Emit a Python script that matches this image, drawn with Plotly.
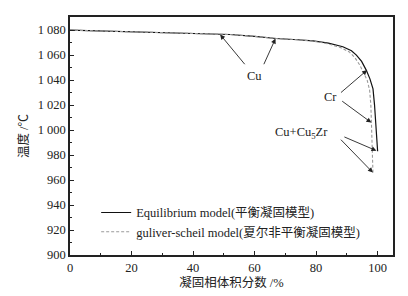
import plotly.graph_objects as go

# Equilibrium model curve (solid black)
eq_x = [0, 20, 40, 52, 60, 67, 74, 79, 84, 88.7, 91.5, 93.1, 94.8, 96.3, 97.5, 98.5, 99.0, 99.4, 99.8, 100]
eq_y = [1080, 1078.5, 1077.2, 1076.5, 1075, 1073.3, 1072.3, 1071.4, 1069.6, 1066.7, 1063.5, 1060, 1055, 1048, 1041, 1033, 1020, 1005, 992, 983]

# Gulliver-Scheil model curve (gray dashed)
gs_x = [0, 20, 40, 52, 60, 67, 74, 79, 84, 88, 90.8, 92.6, 94.2, 95.5, 96.6, 97.4, 97.8, 98.0, 98.3, 98.5]
gs_y = [1080, 1078.5, 1077.2, 1076.5, 1075, 1073.3, 1072.3, 1071.2, 1069, 1066, 1062.5, 1058, 1052, 1046, 1040, 1032, 1020, 1005, 985, 965]

x_ticks = [0, 20, 40, 60, 80, 100]
x_ticklabels = ["0", "20", "40", "60", "80", "100"]
y_ticks = [900, 920, 940, 960, 980, 1000, 1020, 1040, 1060, 1080]
y_ticklabels = ["900", "920", "940", "960", "980", "1 000", "1 020", "1 040", "1 060", "1 080"]

legend_names = ["Equilibrium model(平衡凝固模型)", "guliver-scheil model(夏尔非平衡凝固模型)"]

# annotations: label, label position (x, T), arrow targets and tails
labels = ["Cu", "Cr", "Cu+Cu<sub>5</sub>Zr"]
label_pos = [(60.1, 1043.5), (84.6, 1026.6), (75.2, 997.4)]
arrow_targets = [
    [(48.8, 1076.5), (66.8, 1073.2)],
    [(96.6, 1048.0), (97.95, 1006.0)],
    [(99.6, 983.5), (98.45, 966.0)],
]
arrow_tails = [
    [(57.2, 1051.5), (62.8, 1051.5)],
    [(87.6, 1029.0), (88.0, 1024.0)],
    [(88.7, 995.0), (87.6, 993.5)],
]

font_family = "Liberation Serif, Noto Sans CJK SC, serif"

fig = go.Figure()
fig.add_trace(go.Scatter(x=eq_x, y=eq_y, mode="lines", name=legend_names[0],
                         line=dict(color="#111", width=1.2)))
fig.add_trace(go.Scatter(x=gs_x, y=gs_y, mode="lines", name=legend_names[1],
                         line=dict(color="#9a9a9a", width=1.1, dash="3px,2px")))

annotations = []
for lab, pos, tgts, tails in zip(labels, label_pos, arrow_targets, arrow_tails):
    annotations.append(dict(x=pos[0], y=pos[1], text=lab, showarrow=False,
                            font=dict(size=12.5, color="#222", family=font_family)))
    for t, tl in zip(tgts, tails):
        annotations.append(dict(x=t[0], y=t[1], ax=tl[0], ay=tl[1], axref="x", ayref="y",
                                xref="x", yref="y", text="", showarrow=True,
                                arrowhead=2, arrowsize=1.1, arrowwidth=0.9, arrowcolor="#222"))

fig.update_layout(
    width=400, height=288,
    margin=dict(l=62, r=15, t=9, b=41, autoexpand=False),
    paper_bgcolor="white", plot_bgcolor="white",
    font=dict(family=font_family, color="#222", size=12),
    showlegend=True,
    legend=dict(x=0.081, y=0.24, xanchor="left", yanchor="top",
                bgcolor="rgba(0,0,0,0)", font=dict(size=12.5, family=font_family),
                itemwidth=30, tracegroupgap=0),
    annotations=annotations,
)
fig.update_xaxes(range=[0, 105], tickvals=x_ticks, ticktext=x_ticklabels,
                 ticks="inside", ticklen=4, tickcolor="#222",
                 minor=dict(dtick=10, tick0=0, ticks="inside", ticklen=2, tickcolor="#222"),
                 showline=True, linecolor="#222", linewidth=1.5, mirror=True,
                 showgrid=False, zeroline=False, automargin=False,
                 title=dict(text="凝固相体积分数 /%", font=dict(size=12.5), standoff=4),
                 tickfont=dict(size=12.5))
fig.update_yaxes(range=[900, 1090.5], tickvals=y_ticks, ticktext=y_ticklabels,
                 ticks="inside", ticklen=4, tickcolor="#222",
                 minor=dict(dtick=10, tick0=900, ticks="inside", ticklen=2, tickcolor="#222"),
                 showline=True, linecolor="#222", linewidth=1.5, mirror=True,
                 showgrid=False, zeroline=False, automargin=False,
                 title=dict(text="温度 /℃", font=dict(size=12.5), standoff=6),
                 tickfont=dict(size=12.5))

fig.write_html("out.html")
